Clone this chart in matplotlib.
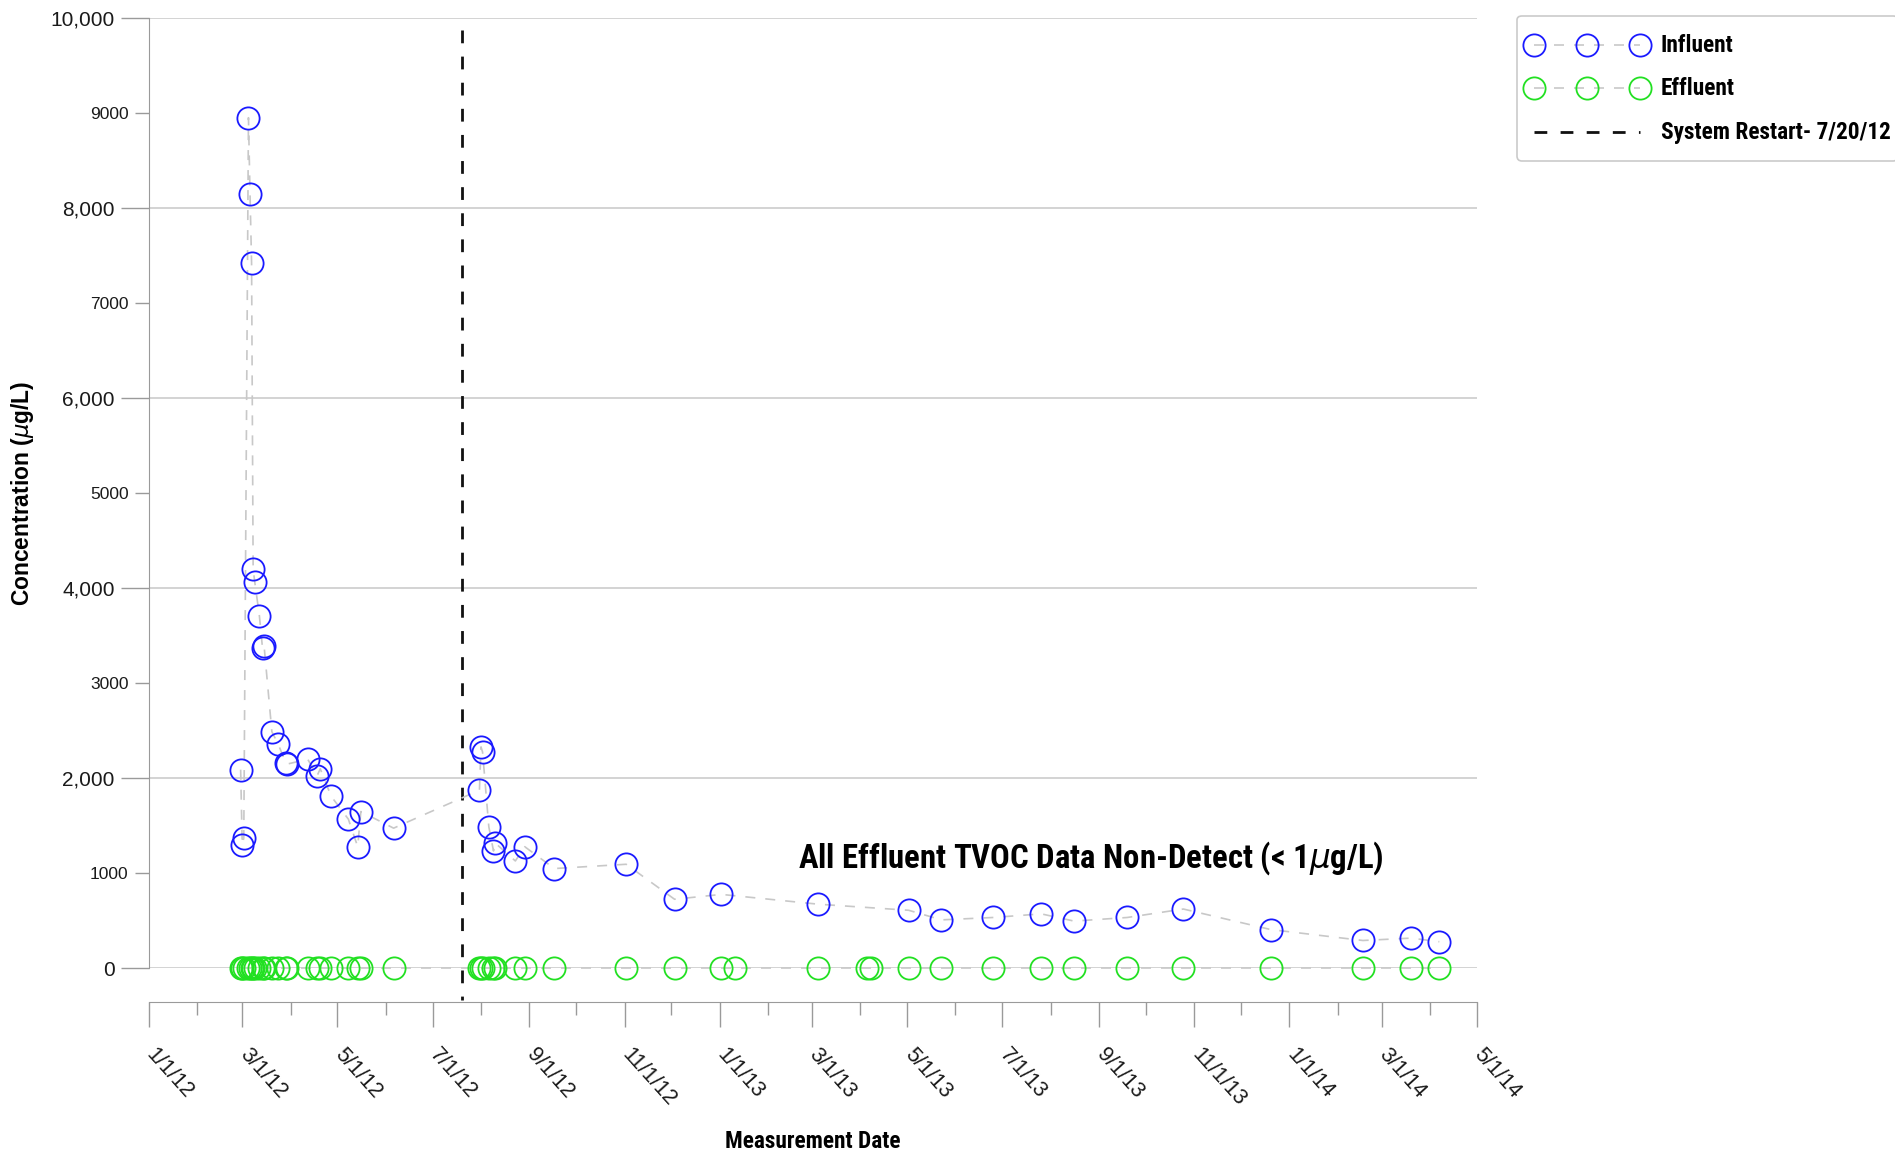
import matplotlib
matplotlib.use("Agg")
import matplotlib.pyplot as plt
import matplotlib.dates as mdates
import matplotlib.transforms as mtransforms
from matplotlib import font_manager
from matplotlib.ticker import FixedLocator, FixedFormatter
from matplotlib.legend_handler import HandlerLine2D
import numpy as np
import pandas as pd

# ---------------- data ----------------
influent_dates = [
    "2012-02-29", "2012-03-01", "2012-03-02", "2012-03-05", "2012-03-06", "2012-03-07",
    "2012-03-08", "2012-03-09", "2012-03-12", "2012-03-14", "2012-03-15", "2012-03-20",
    "2012-03-24", "2012-03-29", "2012-03-30", "2012-04-12", "2012-04-18", "2012-04-20",
    "2012-04-27", "2012-05-08", "2012-05-14", "2012-05-16", "2012-06-06", "2012-07-31",
    "2012-08-01", "2012-08-02", "2012-08-06", "2012-08-09", "2012-08-10", "2012-08-23",
    "2012-08-29", "2012-09-17", "2012-11-02", "2012-12-03", "2013-01-02", "2013-03-05",
    "2013-05-02", "2013-05-23", "2013-06-25", "2013-07-26", "2013-08-16", "2013-09-19",
    "2013-10-25", "2013-12-20", "2014-02-17", "2014-03-20", "2014-04-07",
]
influent_values = [
    2090, 1300, 1370, 8950, 8150, 7420,
    4200, 4070, 3710, 3370, 3395, 2490,
    2360, 2160, 2150, 2200, 2025, 2100,
    1810, 1570, 1280, 1650, 1475, 1875,
    2330, 2275, 1490, 1235, 1320, 1130,
    1280, 1050, 1095, 727, 778, 675,
    611, 510, 535, 573, 497, 535,
    624, 408, 293, 318, 280,
]

effluent_dates = [
    "2012-02-29", "2012-03-01", "2012-03-02", "2012-03-05", "2012-03-06", "2012-03-07",
    "2012-03-08", "2012-03-09", "2012-03-12", "2012-03-14", "2012-03-15", "2012-03-20",
    "2012-03-24", "2012-03-29", "2012-03-30", "2012-04-12", "2012-04-18", "2012-04-20",
    "2012-04-27", "2012-05-08", "2012-05-14", "2012-05-16", "2012-06-06", "2012-07-31",
    "2012-08-01", "2012-08-02", "2012-08-06", "2012-08-09", "2012-08-10", "2012-08-23",
    "2012-08-29", "2012-09-17", "2012-11-02", "2012-12-03", "2013-01-02", "2013-01-11",
    "2013-03-05", "2013-04-05", "2013-04-08", "2013-05-02", "2013-05-23", "2013-06-25",
    "2013-07-26", "2013-08-16", "2013-09-19", "2013-10-25", "2013-12-20", "2014-02-17",
    "2014-03-20", "2014-04-07",
]
effluent_values = [0] * len(effluent_dates)

restart_date = "2012-07-20"

x_tick_dates = ["2012-01-01", "2012-03-01", "2012-05-01", "2012-07-01", "2012-09-01",
                "2012-11-01", "2013-01-01", "2013-03-01", "2013-05-01", "2013-07-01",
                "2013-09-01", "2013-11-01", "2014-01-01", "2014-03-01", "2014-05-01"]
x_tick_labels = ["1/1/12", "3/1/12", "5/1/12", "7/1/12", "9/1/12", "11/1/12", "1/1/13",
                 "3/1/13", "5/1/13", "7/1/13", "9/1/13", "11/1/13", "1/1/14", "3/1/14",
                 "5/1/14"]
y_major_ticks = [0, 2000, 4000, 6000, 8000, 10000]
y_major_labels = ["0", "2,000", "4,000", "6,000", "8,000", "10,000"]
y_minor_ticks = [1000, 3000, 5000, 7000, 9000]
y_minor_labels = ["1000", "3000", "5000", "7000", "9000"]

annotation_text = r"All Effluent TVOC Data Non-Detect (< 1$\mu$g/L)"
legend_labels = ["Influent", "Effluent", "System Restart- 7/20/12"]

# ---------------- fonts ----------------
entries = font_manager.fontManager.ttflist
names = {f.name for f in entries}
REG = "Liberation Sans" if "Liberation Sans" in names else "DejaVu Sans"
plt.rcParams["font.family"] = [REG, "DejaVu Sans"]


def condensed_bold():
    prefs = ["Liberation Sans Narrow", "Arial Narrow", "Nimbus Sans Narrow", "Roboto Condensed",
             "Noto Sans Condensed", "Open Sans Condensed", "Noto Sans SemiCondensed",
             "DejaVu Sans Condensed"]
    for p in prefs:
        if p in names:
            return dict(family=p, weight="bold")
    for f in entries:
        st = str(f.stretch).lower()
        if st in ("condensed", "semi-condensed") and "Sans" in f.name and "Mono" not in f.name \
                and "CJK" not in f.name and str(f.weight) in ("700", "bold"):
            return dict(fname=f.fname)
    return dict(family=REG, weight="bold")


COND = condensed_bold()

# ---------------- figure ----------------
fig = plt.figure(figsize=(18.95, 11.51), dpi=100)
renderer = fig.canvas.get_renderer()


def fp(size, spec):
    spec = dict(spec)
    if "fname" in spec:
        return font_manager.FontProperties(fname=spec["fname"], size=size)
    return font_manager.FontProperties(family=[spec["family"], "DejaVu Sans"],
                                       weight=spec.get("weight", "normal"), size=size)


def fit_size(text, target_px, spec, base=20.0):
    t = fig.text(0, 0, text, fontproperties=fp(base, spec))
    bb = t.get_window_extent(renderer)
    t.remove()
    return base * target_px / bb.width


class ShiftedHandler(HandlerLine2D):
    def __init__(self, dy, **kw):
        super().__init__(**kw)
        self.dy = dy

    def create_artists(self, legend, orig_handle, xdescent, ydescent, width, height,
                       fontsize, trans):
        arts = super().create_artists(legend, orig_handle, xdescent, ydescent, width,
                                      height, fontsize, trans)
        for a in arts:
            a.set_ydata(np.asarray(a.get_ydata(), dtype=float) - self.dy)
        return arts


ax = fig.add_axes([0.0784, 0.1587, 0.7009, 0.8257])

inf_x = pd.to_datetime(influent_dates)
eff_x = pd.to_datetime(effluent_dates)

line_kw = dict(color="#c8c8c8", linestyle=(0, (6, 6)), linewidth=1.2,
               marker="o", markersize=16, markerfacecolor="none", markeredgewidth=1.3)
ax.plot(inf_x, influent_values, markeredgecolor="#1a1aff", label=legend_labels[0], zorder=3, **line_kw)
ax.plot(eff_x, effluent_values, markeredgecolor="#22e022", label=legend_labels[1], zorder=3,
        clip_on=False, **line_kw)

rd = pd.to_datetime(restart_date)
ax.plot([rd, rd], [9874, -330], color="#111111", linewidth=2.0,
        linestyle=(0, (4.6, 4.8)), clip_on=False, label=legend_labels[2], zorder=2)

ax.set_xlim(pd.Timestamp(x_tick_dates[0]), pd.Timestamp(x_tick_dates[-1]))
ax.set_ylim(0, 10000)

# y axis
ax.yaxis.set_major_locator(FixedLocator(y_major_ticks))
ax.yaxis.set_major_formatter(FixedFormatter(y_major_labels))
ax.yaxis.set_minor_locator(FixedLocator(y_minor_ticks))
ax.yaxis.set_minor_formatter(FixedFormatter(y_minor_labels))
ax.tick_params(axis="y", which="major", length=20, width=1, color="#9a9a9a",
               labelsize=15, pad=4.5, labelcolor="#1a1a1a")
ax.tick_params(axis="y", which="minor", length=10, width=1, color="#9a9a9a",
               labelsize=12.5, pad=4.5, labelcolor="#1a1a1a")
ax.yaxis.grid(True, which="major", color="#c8c8c8", linewidth=1.1)
ax.set_axisbelow(True)

# x axis
ax.tick_params(axis="x", which="major", length=18, width=1, color="#9a9a9a",
               labelsize=15.5, pad=12.5, labelcolor="#1a1a1a", labelrotation=-48)
ax.tick_params(axis="x", which="minor", length=9.5, width=1, color="#9a9a9a")
ax.xaxis.set_major_locator(FixedLocator(mdates.date2num(pd.to_datetime(x_tick_dates))))
ax.xaxis.set_major_formatter(FixedFormatter(x_tick_labels))
ax.xaxis.set_minor_locator(mdates.MonthLocator())

for s in ["top", "right"]:
    ax.spines[s].set_visible(False)
ax.spines["left"].set_color("#9a9a9a")
ax.spines["bottom"].set_color("#9a9a9a")
ax.spines["bottom"].set_position(("outward", 24.5))

# y label (regular bold)
ylab = r"Concentration ($\mu$g/L)"
ysz = fit_size(ylab, 225, dict(family=REG, weight="bold"))
ax.set_ylabel(ylab, fontproperties=fp(ysz, dict(family=REG, weight="bold")))
ax.yaxis.set_label_coords(-0.0847, 0.5)

# x label (condensed bold)
xlab = "Measurement Date"
xsz = fit_size(xlab, 175, COND)
ax.set_xlabel(xlab, fontproperties=fp(min(xsz, 18), COND))
ax.xaxis.set_label_coords(0.5, -0.170)

# annotation
asz = fit_size(annotation_text, 586, COND)
ax.text(pd.Timestamp("2013-08-27"), 1160, annotation_text,
        fontproperties=fp(min(asz, 25), COND), ha="center", va="center")

# legend
lsz = min(fit_size(legend_labels[2], 230, COND), 19)
fs_px = lsz * 100 / 72.0
bp = 7.3 / fs_px
mp = (17 - 7.3) / fs_px
row_h = 43.5
hh = (row_h / fs_px - 0.245) / 0.65
hmap = {h: ShiftedHandler(5.2, marker_pad=mp) for h in ax.get_lines()}
leg = ax.legend(loc="upper left", bbox_to_anchor=(1517 / 1895, 1 - 15.7 / 1151),
                bbox_transform=fig.transFigure, borderaxespad=0,
                numpoints=3, handlelength=106 / fs_px + 2 * mp, handleheight=hh,
                handletextpad=11 / fs_px, labelspacing=0.0,
                borderpad=bp, frameon=True, fancybox=True,
                prop=fp(lsz, COND), handler_map=hmap)
leg.get_frame().set_edgecolor("#bdbdbd")
leg.get_frame().set_linewidth(1.2)

# enforce tick label orientation
fig.canvas.draw()
shift = mtransforms.ScaledTranslation(8.5 / 100, 0, fig.dpi_scale_trans)
for lab in ax.get_xticklabels():
    lab.set_rotation(-48)
    lab.set_horizontalalignment("left")
    lab.set_verticalalignment("top")
    lab.set_rotation_mode("anchor")
    lab.set_transform(lab.get_transform() + shift)

fig.savefig("out.png", dpi=100)
